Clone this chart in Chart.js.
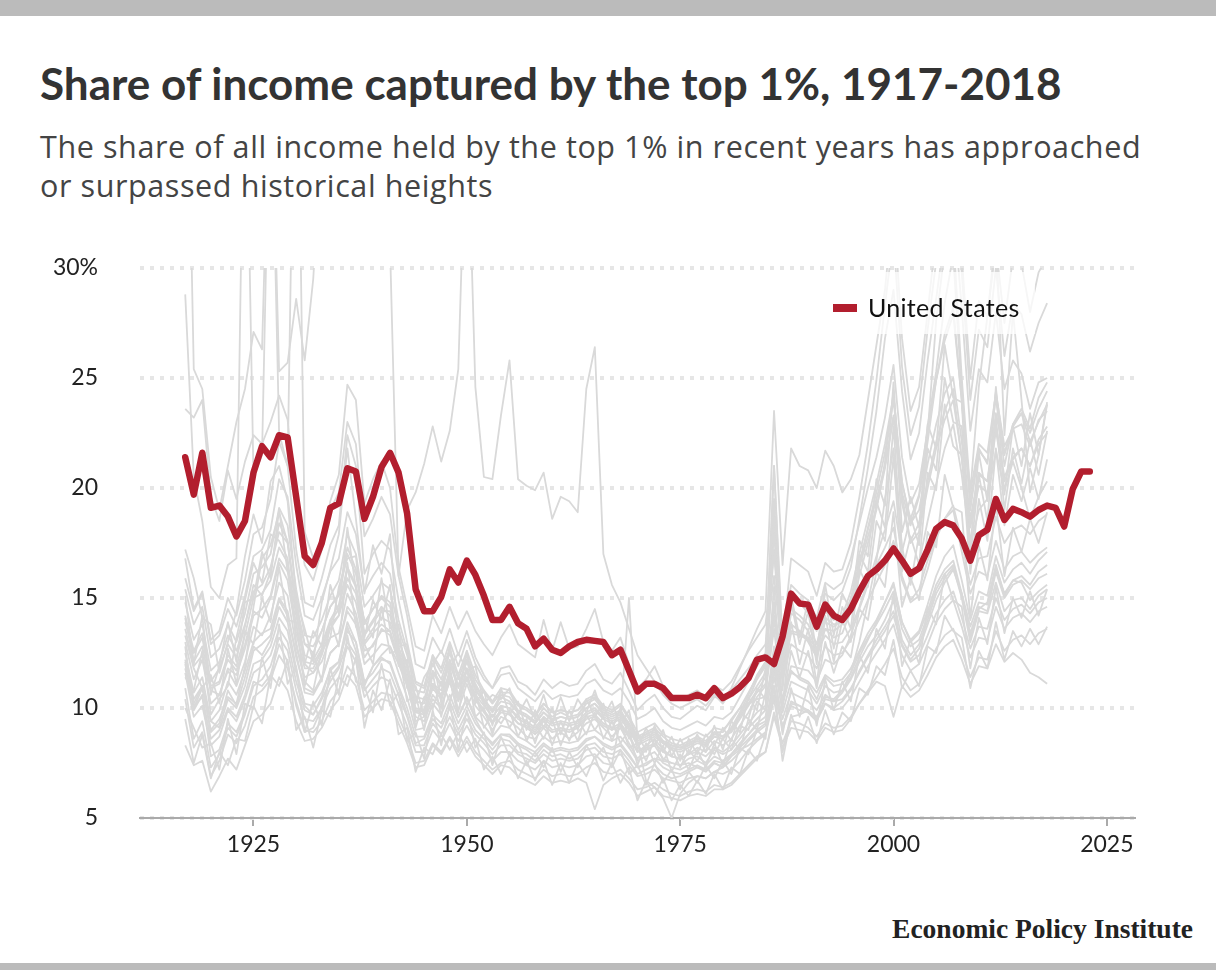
<!DOCTYPE html>
<html>
<head>
<meta charset="utf-8">
<script src="https://cdn.jsdelivr.net/npm/chart.js@4.4.1/dist/chart.umd.min.js"></script>
<style>
  html, body { margin: 0; padding: 0; background: #fff; }
  body { width: 1216px; height: 970px; position: relative; overflow: hidden; font-family: Lato, sans-serif; }
  .bar { position: absolute; left: 0; width: 1216px; background: #bbbbbb; }
  #title { position: absolute; left: 40px; top: 57px; font-size: 44px; font-weight: 700; color: #333; white-space: nowrap; }
  #subtitle { position: absolute; left: 40px; top: 127px; font-family: "Open Sans", sans-serif; font-size: 30.5px; letter-spacing: 0.6px; line-height: 39px; color: #444; white-space: nowrap; }
  #wrap { position: absolute; left: 0; top: 240px; width: 1216px; height: 640px; }
  #legend { position: absolute; left: 820px; top: 272px; width: 215px; height: 62px; background: rgba(255,255,255,0.75); }
  #legend .sw { position: absolute; left: 13px; top: 32px; width: 24px; height: 8px; background: #b21e2e; }
  #legend .lb { position: absolute; left: 48px; top: 21px; font-size: 25px; letter-spacing: 0.3px; line-height: 29px; color: #111; white-space: nowrap; }
  #source { position: absolute; right: 23px; top: 913px; font-family: "Liberation Serif", serif; font-weight: 700; font-size: 27.5px; color: #222; white-space: nowrap; }
</style>
</head>
<body>
<div class="bar" style="top:0;height:16px"></div>
<div id="title">Share of income captured by the top 1%, 1917-2018</div>
<div id="subtitle">The share of all income held by the top 1% in recent years has approached<br>or surpassed historical heights</div>
<div id="wrap"><canvas id="chart"></canvas></div>
<div id="legend"><div class="sw"></div><div class="lb">United States</div></div>
<div id="source">Economic Policy Institute</div>
<div class="bar" style="top:963px;height:7px"></div>

<script>
// x ticks and y ticks
var xTickYears = [1925, 1950, 1975, 2000, 2025];
var yTickValues = [5, 10, 15, 20, 25, 30];

// United States, 1917-2023
var usFirstYear = 1917;
var usShare = [
  21.4, 19.7, 21.6, 19.1, 19.2, 18.7, 17.8, 18.5, 20.7, 21.9,
  21.4, 22.4, 22.3, 19.6, 16.9, 16.5, 17.5, 19.1, 19.3, 20.9,
  20.75, 18.6, 19.6, 20.95, 21.6, 20.7, 18.85, 15.4, 14.4, 14.4,
  15.05, 16.3, 15.7, 16.7, 16.05, 15.1, 14.0, 14.0, 14.6, 13.85,
  13.6, 12.8, 13.15, 12.65, 12.5, 12.8, 13.0, 13.1, 13.05, 13.0,
  12.4, 12.65, 11.7, 10.75, 11.1, 11.1, 10.9, 10.45, 10.45, 10.45,
  10.6, 10.45, 10.9, 10.45, 10.65, 10.95, 11.35, 12.2, 12.3, 12.0,
  13.25, 15.2, 14.75, 14.7, 13.7, 14.7, 14.2, 14.0, 14.5, 15.3,
  16.0, 16.3, 16.7, 17.25, 16.7, 16.1, 16.35, 17.2, 18.15, 18.45,
  18.3, 17.7, 16.7, 17.85, 18.1, 19.5, 18.55, 19.05, 18.9, 18.7,
  19.0, 19.2, 19.1, 18.25, 19.95, 20.75, 20.75
];

// individual states, 1917-2018 (values above 30 run off the top)
var stateFirstYear = 1917;
var state01 = [
  16.8, 14.5, 15.3, 13.1, 13.5, 15.0, 14.2, 15.8, 17.9, 18.2,
  19.5, 22.1, 21.0, 17.2, 14.8, 14.6, 15.9, 17.4, 18.3, 22.4,
  21.0, 16.1, 17.0, 17.6, 17.2, 14.9, 13.0, 11.2, 11.0, 12.4,
  11.8, 13.0, 11.9, 13.1, 12.0, 11.3, 10.9, 11.8, 11.9, 11.2,
  11.0, 10.6, 11.3, 10.9, 11.2, 11.0, 11.1, 11.7, 12.0, 11.3,
  11.1, 11.6, 10.8, 9.9, 10.3, 10.6, 10.0, 9.6, 9.5, 9.8,
  10.1, 9.9, 10.5, 10.4, 10.9, 11.8, 12.7, 13.6, 14.4, 23.5,
  16.5, 21.8, 21.0, 20.8, 20.0, 21.7, 21.0, 19.8, 20.4, 21.5,
  24.0, 26.5, 29.0, 33.0, 26.8, 23.5, 24.6, 28.0, 31.5, 34.0,
  36.0, 30.5, 25.0, 28.5, 27.8, 31.0, 27.5, 30.5, 30.2, 28.0,
  29.8, 30.5
];
var state02 = [
  14.2, 12.6, 13.4, 11.2, 11.8, 12.9, 12.3, 13.7, 15.6, 15.1,
  16.2, 18.4, 17.6, 14.6, 12.9, 12.5, 13.5, 14.6, 15.2, 17.3,
  16.3, 13.8, 14.5, 15.0, 14.6, 13.2, 11.8, 10.3, 10.2, 11.6,
  11.0, 12.1, 11.0, 12.2, 11.1, 10.4, 9.9, 10.6, 10.5, 9.9,
  9.7, 9.4, 10.0, 9.6, 9.8, 9.6, 9.7, 10.2, 10.4, 9.9,
  9.7, 9.9, 9.3, 8.6, 8.8, 9.0, 8.5, 8.3, 8.2, 8.4,
  8.6, 8.4, 8.9, 8.7, 9.1, 9.8, 10.6, 11.5, 12.1, 21.0,
  12.5, 15.0, 14.8, 14.3, 13.5, 15.2, 14.9, 15.3, 16.4, 18.6,
  20.9, 23.5, 26.8, 29.0, 24.4, 21.3, 22.5, 25.8, 28.6, 31.5,
  32.8, 28.2, 22.6, 25.4, 24.8, 28.0, 24.5, 25.8, 25.2, 23.6,
  24.8, 25.0
];
var state03 = [
  12.1, 10.2, 11.0, 8.9, 9.3, 10.8, 10.1, 11.4, 12.8, 12.4,
  13.1, 14.6, 13.9, 11.8, 10.1, 9.7, 10.5, 11.8, 12.1, 13.9,
  13.0, 11.1, 11.9, 12.3, 12.0, 10.9, 9.7, 8.4, 8.6, 9.5,
  9.1, 10.0, 9.0, 9.8, 9.0, 8.6, 8.1, 8.6, 8.5, 8.0,
  7.9, 7.6, 8.1, 7.8, 7.9, 7.7, 7.9, 8.3, 8.4, 8.0,
  7.9, 8.1, 7.6, 7.0, 7.2, 7.4, 7.0, 6.8, 6.9, 7.1,
  7.3, 7.2, 7.6, 7.5, 7.9, 8.2, 8.6, 9.0, 9.3, 11.0,
  9.0, 10.2, 10.1, 9.8, 9.4, 10.5, 10.4, 10.8, 11.6, 13.0,
  14.8, 16.7, 19.5, 21.8, 17.3, 15.6, 17.9, 22.5, 27.6, 30.8,
  31.5, 25.0, 19.8, 24.6, 27.8, 31.5, 22.4, 28.0, 24.0, 19.8,
  21.5, 23.8
];
var state04 = [
  13.6, 11.9, 12.4, 10.8, 10.6, 11.8, 11.5, 12.7, 14.2, 14.5,
  15.1, 16.8, 16.2, 13.8, 12.1, 12.0, 12.7, 13.9, 14.5, 16.3,
  15.5, 13.3, 13.9, 14.4, 14.4, 12.8, 11.6, 10.0, 9.9, 11.1,
  10.5, 11.6, 10.4, 11.4, 10.5, 9.9, 9.4, 9.9, 9.8, 9.3,
  9.2, 8.9, 9.4, 9.0, 9.1, 9.0, 9.2, 9.6, 9.7, 9.3,
  9.1, 9.3, 8.8, 8.0, 8.3, 8.6, 8.1, 7.8, 7.7, 7.9,
  8.2, 8.0, 8.5, 8.3, 8.6, 9.2, 9.8, 10.5, 11.0, 14.8,
  11.4, 13.4, 13.3, 13.1, 12.4, 13.6, 13.5, 13.8, 14.8, 16.5,
  18.2, 19.8, 21.6, 24.0, 20.2, 18.6, 19.7, 22.8, 25.3, 28.4,
  30.6, 24.3, 19.0, 21.7, 21.2, 24.1, 21.0, 22.9, 23.4, 22.1,
  23.0, 23.8
];
var state05 = [
  15.4, 13.8, 14.6, 12.3, 12.7, 13.8, 13.0, 14.3, 16.1, 16.4,
  17.0, 19.1, 18.3, 15.4, 13.3, 13.2, 14.0, 15.1, 15.8, 17.9,
  17.0, 14.6, 15.1, 15.7, 15.4, 13.6, 12.4, 10.8, 10.7, 12.0,
  11.3, 12.5, 11.3, 12.4, 11.3, 10.7, 10.2, 10.7, 10.7, 10.1,
  9.9, 9.6, 10.2, 9.8, 9.9, 9.8, 9.9, 10.3, 10.5, 10.0,
  9.8, 10.1, 9.5, 8.7, 8.9, 9.1, 8.7, 8.4, 8.3, 8.5,
  8.7, 8.5, 8.9, 8.7, 8.9, 9.5, 10.1, 10.7, 11.1, 14.0,
  11.3, 12.9, 12.6, 12.4, 11.8, 12.8, 12.4, 12.5, 13.1, 14.0,
  14.9, 15.7, 16.5, 17.6, 15.8, 14.8, 15.1, 16.3, 17.7, 18.6,
  19.2, 17.6, 15.6, 16.8, 16.9, 18.7, 17.5, 18.1, 18.3, 17.9,
  18.5, 18.8
];
var state06 = [
  13.0, 11.3, 12.2, 10.2, 10.6, 11.7, 11.0, 12.1, 13.7, 13.3,
  14.2, 15.7, 15.1, 12.8, 11.4, 11.6, 12.1, 13.2, 13.4, 15.2,
  14.3, 12.6, 12.8, 13.6, 13.3, 12.1, 11.1, 9.4, 9.6, 10.6,
  10.1, 11.2, 9.9, 11.1, 10.1, 9.6, 9.0, 9.6, 9.4, 9.1,
  8.7, 8.6, 9.1, 8.6, 8.9, 8.6, 8.9, 9.3, 9.5, 9.1,
  8.7, 9.1, 8.4, 7.7, 8.1, 8.3, 7.7, 7.5, 7.4, 7.7,
  7.8, 7.5, 8.1, 7.9, 8.1, 8.6, 9.1, 9.5, 9.9, 12.8,
  10.1, 11.7, 11.3, 11.1, 10.4, 11.4, 11.0, 11.1, 11.6, 12.5,
  13.2, 13.8, 14.5, 15.3, 13.6, 12.8, 13.1, 14.2, 15.4, 16.1,
  16.5, 15.1, 13.4, 14.6, 14.4, 16.2, 15.0, 15.6, 15.8, 15.4,
  15.9, 16.1
];
var state07 = [
  10.4, 8.2, 8.9, 6.9, 7.6, 8.8, 8.4, 9.2, 10.5, 10.8,
  11.3, 12.4, 11.8, 10.3, 9.0, 8.9, 9.4, 10.3, 10.8, 11.9,
  11.4, 9.9, 10.3, 10.7, 10.6, 9.6, 8.7, 7.5, 7.6, 8.4,
  8.0, 8.7, 8.0, 8.7, 8.0, 7.6, 7.2, 7.5, 7.6, 7.2,
  7.0, 6.8, 7.2, 6.9, 7.0, 6.9, 7.0, 7.3, 7.5, 7.1,
  7.0, 7.2, 6.8, 6.3, 6.4, 6.6, 6.3, 6.1, 6.0, 6.2,
  6.3, 6.2, 6.5, 6.4, 6.6, 7.0, 7.4, 7.8, 8.0, 9.8,
  8.4, 9.4, 9.3, 9.1, 8.7, 9.3, 9.1, 9.2, 9.6, 10.2,
  10.7, 11.2, 11.0, 9.6, 11.0, 10.5, 10.8, 11.5, 12.3, 12.8,
  13.1, 12.2, 11.1, 11.9, 11.8, 12.9, 12.1, 12.5, 12.2, 11.6,
  11.4, 11.1
];
var state08 = [
  11.6, 9.6, 10.1, 8.3, 8.7, 9.9, 9.4, 10.4, 11.6, 11.9,
  12.4, 13.6, 13.0, 11.2, 9.9, 9.7, 10.4, 11.2, 11.8, 13.0,
  12.4, 10.8, 11.3, 11.8, 11.6, 10.6, 9.6, 8.3, 8.3, 9.3,
  8.8, 9.6, 8.8, 9.5, 8.8, 8.4, 7.9, 8.3, 8.3, 7.9,
  7.7, 7.5, 7.9, 7.6, 7.7, 7.6, 7.7, 8.1, 8.2, 7.8,
  7.7, 7.9, 7.4, 6.9, 7.0, 7.2, 6.8, 6.7, 6.6, 6.8,
  6.9, 6.8, 7.1, 7.0, 7.2, 7.6, 8.1, 8.5, 8.8, 10.9,
  9.1, 10.3, 10.1, 9.9, 9.5, 10.2, 9.9, 10.0, 10.5, 11.2,
  11.9, 12.5, 13.1, 13.8, 12.4, 11.7, 12.0, 12.9, 13.9, 14.5,
  14.9, 13.7, 12.3, 13.2, 13.1, 14.6, 13.6, 14.1, 14.3, 13.9,
  14.4, 14.6
];
var state09 = [
  14.8, 13.1, 13.8, 11.7, 12.1, 13.3, 12.6, 13.8, 15.3, 15.6,
  16.4, 18.0, 17.5, 14.8, 12.9, 12.8, 13.5, 14.6, 15.1, 17.0,
  16.1, 13.9, 14.5, 15.1, 14.8, 13.1, 12.0, 10.5, 10.4, 11.7,
  11.1, 12.2, 11.0, 12.1, 11.0, 10.4, 9.9, 10.5, 10.3, 9.8,
  9.6, 9.3, 9.8, 9.4, 9.6, 9.5, 9.6, 10.0, 10.2, 9.7,
  9.5, 9.7, 9.2, 8.5, 8.7, 8.9, 8.4, 8.2, 8.1, 8.3,
  8.5, 8.3, 8.7, 8.6, 9.0, 9.7, 10.4, 11.3, 11.9, 18.0,
  12.0, 14.3, 14.0, 13.5, 12.6, 14.1, 13.8, 13.9, 14.9, 16.4,
  17.8, 19.1, 20.9, 23.2, 19.3, 17.5, 18.0, 20.0, 21.8, 23.1,
  24.0, 21.4, 18.2, 20.1, 19.8, 22.6, 20.3, 21.3, 21.8, 21.0,
  22.2, 22.8
];
var state10 = [
  12.5, 10.7, 11.4, 9.4, 9.9, 11.2, 10.6, 11.7, 13.0, 13.4,
  13.6, 15.0, 14.4, 12.3, 10.9, 10.7, 11.4, 12.5, 12.9, 14.4,
  13.8, 12.0, 12.4, 12.9, 12.8, 11.6, 10.5, 9.0, 9.1, 10.2,
  9.7, 10.6, 9.6, 10.5, 9.6, 9.2, 8.7, 9.2, 9.1, 8.7,
  8.5, 8.2, 8.7, 8.4, 8.5, 8.4, 8.5, 8.9, 9.0, 8.7,
  8.5, 8.7, 8.2, 7.6, 7.8, 8.0, 7.5, 7.3, 7.2, 7.4,
  7.6, 7.4, 7.8, 7.6, 7.9, 8.3, 8.8, 9.3, 9.6, 12.0,
  9.8, 11.2, 11.0, 10.8, 10.2, 11.0, 10.7, 10.8, 11.4, 12.3,
  13.1, 13.9, 14.8, 15.7, 13.9, 13.1, 13.5, 14.7, 16.0, 16.9,
  17.4, 15.8, 14.0, 15.3, 15.1, 16.9, 15.7, 16.3, 16.6, 16.1,
  16.7, 17.1
];
var state11 = [
  11.8, 10.0, 10.9, 9.0, 9.5, 10.5, 10.2, 11.9, 14.6, 16.8,
  17.4, 18.9, 17.5, 14.4, 12.0, 11.6, 12.4, 13.6, 14.2, 15.6,
  14.8, 12.9, 13.4, 13.8, 13.5, 12.2, 11.2, 9.8, 9.9, 11.0,
  10.6, 11.5, 10.5, 11.4, 10.6, 10.1, 9.6, 10.1, 10.0, 9.6,
  9.4, 9.1, 9.6, 9.3, 9.4, 9.3, 9.4, 9.8, 10.0, 9.6,
  9.4, 9.6, 9.1, 8.4, 8.6, 8.8, 8.4, 8.1, 8.0, 8.2,
  8.4, 8.3, 8.7, 8.6, 9.0, 9.6, 10.2, 10.8, 11.4, 14.2,
  11.6, 13.5, 13.4, 13.2, 12.7, 13.9, 13.7, 14.0, 15.0, 16.6,
  18.1, 19.5, 21.0, 23.3, 19.8, 18.3, 19.6, 22.1, 24.9, 27.0,
  28.2, 23.9, 19.4, 21.8, 21.1, 24.4, 21.6, 22.8, 23.4, 22.5,
  23.6, 24.4
];
var state12 = [
  12.8, 9.9, 10.6, 7.8, 8.1, 9.3, 8.9, 9.8, 11.2, 11.0,
  11.5, 12.9, 12.1, 10.1, 8.9, 9.1, 10.0, 11.4, 11.9, 13.7,
  12.6, 11.0, 11.9, 12.4, 12.8, 12.0, 11.0, 9.6, 9.4, 10.4,
  10.0, 11.3, 9.6, 10.4, 9.5, 8.8, 8.3, 8.8, 8.7, 8.3,
  8.1, 7.8, 8.3, 8.0, 8.1, 8.0, 8.1, 8.5, 8.7, 8.3,
  8.1, 8.3, 7.8, 7.3, 7.4, 7.7, 7.6, 7.5, 7.4, 7.5,
  7.3, 7.1, 7.5, 7.3, 7.8, 8.1, 8.3, 8.6, 8.9, 10.6,
  9.2, 10.1, 9.9, 9.8, 9.4, 10.2, 10.0, 10.3, 10.8, 11.7,
  12.4, 13.1, 13.7, 14.4, 12.9, 12.2, 12.7, 13.8, 14.9, 15.7,
  16.3, 15.2, 13.2, 14.5, 14.8, 16.5, 15.1, 15.8, 15.7, 14.9,
  15.3, 15.6
];
var state13 = [
  13.9, 12.5, 13.2, 11.0, 11.2, 12.4, 11.9, 13.3, 15.0, 15.2,
  15.8, 17.3, 16.6, 14.2, 12.4, 12.2, 12.9, 14.0, 14.7, 16.4,
  15.6, 13.4, 14.0, 14.6, 14.2, 12.6, 11.4, 9.9, 9.8, 11.1,
  10.6, 11.6, 10.6, 11.7, 10.8, 10.3, 9.8, 10.3, 10.2, 9.8,
  9.6, 9.3, 9.8, 9.5, 9.6, 9.5, 9.6, 10.0, 10.2, 9.8,
  9.6, 9.8, 9.3, 8.6, 8.8, 9.0, 8.5, 8.3, 8.2, 8.4,
  8.6, 8.4, 8.8, 8.7, 9.1, 9.7, 10.4, 11.0, 11.6, 14.6,
  11.9, 13.8, 13.5, 13.0, 12.3, 13.6, 13.2, 13.4, 14.4, 16.0,
  17.5, 19.0, 21.2, 24.4, 19.6, 17.6, 18.4, 20.3, 22.1, 23.5,
  24.5, 21.3, 18.4, 20.6, 20.3, 23.4, 21.5, 22.9, 23.6, 22.7,
  24.1, 24.8
];
var state14 = [
  15.9, 14.4, 15.2, 12.9, 13.3, 14.5, 13.7, 15.1, 16.9, 17.2,
  18.1, 20.4, 19.6, 16.5, 14.2, 14.0, 15.0, 16.2, 16.8, 18.9,
  17.9, 15.3, 16.0, 16.6, 16.1, 14.0, 12.6, 11.1, 10.9, 12.3,
  11.6, 12.7, 11.5, 12.6, 11.5, 10.8, 10.3, 10.9, 10.8, 10.2,
  10.0, 9.7, 10.2, 9.8, 9.9, 9.8, 9.9, 10.4, 10.6, 10.1,
  9.9, 10.2, 9.6, 8.9, 9.1, 9.3, 8.8, 8.6, 8.5, 8.7,
  8.9, 8.7, 9.1, 9.0, 9.4, 10.0, 10.7, 11.4, 12.0, 19.5,
  12.3, 14.5, 14.2, 13.8, 12.9, 14.4, 14.0, 14.2, 15.3, 17.0,
  18.6, 20.2, 22.0, 24.2, 20.3, 18.4, 19.0, 21.1, 22.9, 24.3,
  25.0, 22.1, 18.6, 20.7, 20.3, 22.9, 20.5, 21.4, 21.8, 21.0,
  22.0, 22.5
];
var state15 = [
  8.3, 7.4, 7.6, 6.2, 6.9, 7.7, 7.2, 8.3, 9.4, 9.7,
  10.2, 11.4, 10.8, 9.4, 8.5, 8.6, 9.1, 9.9, 10.4, 11.5,
  11.0, 9.6, 10.0, 10.4, 10.3, 9.3, 8.4, 7.3, 7.4, 8.3,
  7.9, 8.6, 7.8, 8.5, 7.8, 7.4, 7.0, 7.4, 7.3, 6.9,
  6.7, 6.5, 6.9, 6.6, 6.7, 6.6, 6.8, 6.6, 5.4, 6.5,
  6.8, 7.0, 6.6, 6.0, 6.2, 6.4, 6.0, 5.9, 5.8, 6.0,
  6.1, 6.0, 6.3, 6.3, 6.5, 6.9, 7.3, 7.7, 8.0, 9.6,
  8.2, 9.1, 9.0, 8.9, 8.5, 9.1, 8.9, 9.0, 9.5, 10.2,
  10.8, 11.4, 12.0, 12.7, 11.4, 10.8, 11.1, 11.9, 12.7, 13.3,
  13.6, 12.6, 11.4, 12.3, 12.2, 13.5, 12.6, 13.1, 13.3, 12.9,
  13.4, 13.6
];
var state16 = [
  10.9, 8.6, 9.4, 7.3, 7.9, 9.1, 8.7, 9.7, 11.0, 11.3,
  11.9, 13.2, 12.6, 10.8, 9.5, 9.4, 10.0, 10.9, 11.4, 12.8,
  12.1, 10.5, 11.0, 11.4, 11.2, 10.2, 9.2, 8.0, 8.0, 9.0,
  8.5, 9.3, 8.5, 9.2, 8.5, 8.1, 7.6, 8.0, 8.0, 7.6,
  7.4, 7.2, 7.6, 7.3, 7.4, 7.3, 7.4, 7.8, 7.9, 7.5,
  7.4, 9.5, 15.0, 8.5, 6.7, 6.4, 5.9, 5.0, 6.1, 6.6,
  6.9, 6.8, 7.1, 7.3, 7.9, 8.4, 8.8, 9.2, 9.4, 11.0,
  7.6, 9.6, 9.7, 9.9, 9.6, 10.4, 10.3, 10.7, 11.3, 12.1,
  12.8, 13.3, 14.0, 14.9, 13.1, 12.4, 12.9, 14.0, 15.2, 15.9,
  16.4, 15.0, 13.0, 14.4, 14.3, 15.7, 14.4, 14.9, 15.0, 14.5,
  15.1, 15.4
];
var state17 = [
  23.6, 23.2, 24.0, 19.6, 18.5, 20.8, 19.5, 21.2, 22.4, 22.0,
  23.0, 24.2, 23.1, 19.0, 16.5, 15.8, 17.2, 19.4, 20.6, 24.7,
  24.0, 19.3, 20.4, 21.2, 20.0, 16.4, 14.6, 12.8, 12.6, 14.2,
  13.4, 14.6, 13.6, 14.4, 13.5, 12.9, 12.4, 13.2, 13.8, 12.9,
  12.6, 12.3, 14.0, 12.6, 13.9, 12.7, 12.8, 13.6, 14.5, 13.0,
  12.6, 13.2, 12.0, 10.9, 11.3, 11.9, 11.0, 10.6, 10.4, 10.6,
  10.8, 10.5, 11.0, 10.8, 11.2, 11.9, 12.6, 13.2, 13.8, 17.0,
  13.4, 15.6, 15.2, 14.9, 14.1, 15.7, 15.4, 15.7, 16.8, 18.4,
  20.0, 21.4, 23.2, 25.6, 21.4, 19.3, 20.2, 22.6, 24.9, 26.7,
  27.9, 24.0, 19.8, 22.0, 21.6, 24.3, 21.9, 22.7, 22.9, 21.9,
  23.1, 23.5
];
var state18 = [
  45.0, 25.4, 24.5, 20.5, 19.0, 21.0, 23.0, 24.5, 27.1, 26.3,
  40.0, 25.3, 25.7, 28.6, 25.8, 29.5, 36.0, 38.0, 40.0, 42.0,
  40.0, 36.0, 38.0, 40.0, 31.0, 16.0, 19.0, 19.8, 21.1, 22.8,
  21.2, 22.6, 25.4, 38.0, 24.6, 20.5, 20.4, 23.3, 25.8, 20.4,
  20.1, 19.9, 20.7, 18.6, 19.6, 19.4, 18.9, 24.5, 26.4, 17.0,
  15.6, 14.8, 13.6, 12.4, 11.8, 11.2, 10.6, 10.2, 10.0, 10.2,
  10.4, 10.1, 10.6, 10.2, 10.8, 11.3, 11.8, 12.4, 12.9, 16.0,
  12.2, 13.8, 13.5, 13.1, 12.5, 13.3, 12.9, 13.0, 13.6, 14.6,
  15.8, 16.5, 17.3, 18.2, 16.0, 14.9, 15.4, 16.7, 17.8, 18.6,
  19.0, 17.1, 15.2, 16.2, 16.0, 17.6, 16.3, 16.9, 17.1, 16.6,
  17.0, 17.3
];
var state19 = [
  28.8, 20.5, 18.5, 15.5, 15.0, 16.5, 16.8, 42.0, 20.5, 21.5,
  40.0, 22.5, 21.0, 45.0, 18.0, 16.8, 17.5, 19.0, 19.8, 23.0,
  22.0, 17.8, 18.6, 19.6, 18.8, 16.0, 14.2, 12.0, 11.8, 13.2,
  12.5, 13.6, 12.4, 13.5, 12.3, 11.5, 10.9, 11.5, 11.6, 10.9,
  10.6, 10.3, 10.8, 10.4, 10.6, 10.5, 10.6, 11.1, 11.3, 10.8,
  10.6, 10.9, 10.3, 9.5, 9.7, 10.0, 9.4, 9.1, 9.0, 9.2,
  9.4, 9.2, 9.6, 9.5, 9.8, 10.5, 11.2, 11.9, 12.5, 21.0,
  13.0, 16.8, 16.5, 16.2, 15.1, 16.6, 16.2, 16.3, 17.5, 19.6,
  22.0, 24.9, 28.3, 31.5, 25.5, 22.4, 23.7, 27.2, 30.3, 33.2,
  34.5, 29.8, 24.0, 27.2, 26.4, 30.0, 26.0, 28.4, 27.9, 26.2,
  27.5, 28.4
];
var state20 = [
  14.1, 12.1, 12.8, 10.9, 11.1, 12.2, 11.7, 12.9, 14.4, 14.1,
  15.0, 16.6, 15.8, 13.4, 11.8, 11.8, 12.6, 13.8, 14.2, 15.9,
  15.2, 13.0, 13.6, 14.1, 13.9, 12.4, 11.3, 9.8, 9.7, 10.9,
  10.4, 11.4, 10.3, 11.3, 10.4, 9.8, 9.3, 9.8, 9.7, 9.3,
  9.1, 8.8, 9.2, 8.9, 9.0, 8.9, 9.1, 9.5, 9.6, 9.2,
  9.0, 9.2, 8.7, 8.0, 8.2, 8.4, 8.0, 7.8, 7.7, 7.9,
  8.0, 7.8, 8.2, 8.0, 8.3, 8.8, 9.3, 9.8, 10.1, 12.2,
  10.3, 11.6, 11.4, 11.2, 10.7, 11.5, 11.2, 11.3, 11.8, 12.6,
  13.4, 14.0, 14.8, 15.6, 13.9, 13.0, 13.4, 14.4, 15.6, 16.3,
  16.7, 15.2, 13.7, 14.8, 14.7, 16.4, 15.2, 15.8, 16.0, 15.6,
  16.2, 16.5
];
var state21 = [
  12.2, 10.4, 11.0, 9.4, 9.1, 10.4, 10.0, 11.0, 12.6, 12.9,
  13.3, 14.9, 14.2, 12.5, 10.7, 10.6, 11.3, 12.5, 12.9, 14.6,
  14.1, 12.3, 12.9, 13.5, 13.5, 12.3, 11.2, 9.9, 9.9, 11.1,
  10.8, 12.0, 10.9, 11.8, 10.9, 10.2, 9.6, 10.1, 10.0, 9.5,
  9.3, 9.0, 9.5, 9.2, 9.3, 9.2, 9.3, 9.7, 9.9, 9.5,
  9.3, 9.5, 9.0, 8.3, 8.5, 8.7, 8.4, 8.3, 8.2, 8.3,
  8.5, 8.4, 8.9, 8.9, 9.5, 10.0, 10.2, 10.4, 10.5, 12.0,
  10.4, 11.9, 11.8, 11.7, 11.2, 12.2, 12.0, 12.4, 13.3, 14.5,
  15.6, 16.9, 18.1, 19.4, 17.0, 15.8, 16.6, 18.5, 20.2, 21.8,
  22.9, 20.6, 17.4, 19.0, 19.5, 21.7, 19.9, 21.2, 20.0, 18.6,
  19.6, 20.3
];
var state22 = [
  12.0, 10.1, 10.5, 8.6, 9.0, 10.0, 9.6, 10.6, 12.0, 12.2,
  12.8, 14.1, 13.5, 11.6, 10.2, 10.1, 10.7, 11.7, 12.1, 13.5,
  13.0, 11.2, 11.6, 12.2, 12.1, 11.0, 10.0, 8.7, 8.7, 9.7,
  9.3, 10.3, 9.3, 10.1, 9.3, 8.8, 8.4, 8.8, 8.8, 8.4,
  8.2, 8.0, 8.4, 8.1, 8.2, 8.1, 8.2, 8.6, 8.7, 8.4,
  8.2, 8.4, 7.9, 7.3, 7.5, 7.7, 7.3, 7.1, 7.0, 7.2,
  7.4, 7.2, 7.5, 7.3, 7.6, 8.0, 8.5, 8.9, 9.2, 11.4,
  9.5, 10.7, 10.5, 10.3, 9.9, 10.6, 10.3, 10.4, 10.9, 11.6,
  12.3, 12.9, 13.5, 14.2, 12.8, 12.1, 12.4, 13.3, 14.3, 14.9,
  15.3, 14.1, 12.7, 13.7, 13.6, 15.0, 14.0, 14.5, 14.7, 14.3,
  14.8, 15.0
];
var state23 = [
  15.1, 12.0, 14.2, 10.6, 11.9, 13.9, 12.1, 14.8, 15.0, 17.1,
  15.9, 19.0, 16.2, 15.1, 12.0, 13.5, 12.8, 15.6, 14.3, 18.2,
  15.4, 14.0, 13.2, 15.9, 13.6, 13.8, 10.9, 11.0, 9.6, 12.4,
  10.2, 12.9, 10.4, 12.6, 10.2, 10.8, 9.2, 10.9, 9.7, 10.3,
  9.0, 9.9, 9.1, 10.0, 8.8, 9.9, 9.0, 10.4, 9.6, 10.2,
  9.0, 10.0, 8.6, 8.9, 8.0, 9.2, 8.0, 8.7, 7.6, 8.6,
  7.9, 8.8, 8.3, 9.1, 8.5, 9.8, 9.5, 10.9, 10.4, 15.5,
  10.0, 13.9, 12.0, 13.6, 11.1, 14.2, 12.1, 14.0, 13.0, 16.3,
  15.5, 18.5, 17.6, 21.4, 16.2, 17.8, 16.5, 20.7, 19.9, 23.8,
  21.9, 21.5, 16.1, 19.5, 17.6, 21.8, 18.3, 20.6, 19.4, 20.9,
  19.5, 21.3
];
var state24 = [
  10.0, 9.1, 8.2, 8.4, 7.2, 9.5, 7.9, 10.2, 10.0, 12.3,
  10.9, 13.8, 11.1, 11.9, 8.9, 10.3, 9.2, 11.8, 10.6, 13.3,
  11.2, 11.0, 9.8, 12.0, 10.1, 10.7, 8.5, 8.9, 7.7, 9.9,
  8.3, 10.2, 8.1, 9.9, 8.2, 8.9, 7.4, 8.7, 7.8, 8.4,
  7.4, 8.0, 7.3, 8.2, 7.1, 8.0, 7.3, 8.3, 7.7, 8.2,
  7.3, 8.1, 7.0, 7.4, 6.5, 7.5, 6.6, 7.2, 6.3, 7.1,
  6.6, 7.4, 6.8, 7.6, 7.0, 8.2, 7.9, 9.0, 8.6, 11.8,
  8.8, 10.9, 9.6, 11.0, 9.2, 11.3, 9.9, 11.2, 10.3, 12.4,
  11.6, 13.6, 12.7, 15.2, 11.9, 13.1, 12.0, 14.6, 13.8, 16.1,
  14.9, 14.6, 11.8, 14.1, 12.9, 15.5, 13.4, 15.0, 14.1, 15.3,
  14.2, 15.4
];
var state25 = [
  17.2, 15.9, 14.1, 13.8, 11.6, 13.0, 14.4, 16.9, 18.8, 17.5,
  20.3, 21.0, 19.4, 15.0, 13.6, 12.1, 14.8, 16.3, 17.9, 21.8,
  18.6, 15.2, 17.4, 16.1, 17.9, 12.8, 12.9, 10.2, 11.4, 12.0,
  12.6, 11.8, 12.5, 11.7, 11.9, 10.2, 10.6, 10.4, 10.9, 9.7,
  10.4, 9.5, 10.6, 9.3, 10.5, 9.4, 10.4, 9.8, 10.8, 9.6,
  10.3, 9.2, 9.9, 8.1, 9.1, 8.3, 9.0, 7.8, 8.6, 7.9,
  8.8, 8.0, 9.2, 8.1, 9.4, 8.9, 10.5, 9.9, 11.8, 17.2,
  11.4, 15.1, 13.2, 14.9, 12.5, 15.6, 13.3, 15.2, 14.4, 17.6,
  16.9, 20.4, 19.2, 24.8, 18.0, 19.6, 18.2, 22.9, 21.8, 26.5,
  24.1, 23.9, 17.3, 21.6, 19.4, 24.6, 19.7, 22.8, 21.0, 23.4,
  21.5, 23.9
];
var state26 = [
  9.5, 7.5, 8.8, 6.8, 8.0, 7.4, 8.6, 8.5, 10.1, 9.3,
  11.5, 11.0, 12.2, 9.0, 9.6, 8.2, 9.9, 9.6, 11.4, 11.0,
  12.3, 9.1, 10.8, 9.9, 11.3, 8.8, 9.1, 7.1, 8.2, 7.9,
  8.8, 8.1, 8.9, 8.0, 8.6, 7.2, 7.8, 7.0, 7.9, 6.8,
  7.6, 6.7, 7.6, 6.5, 7.5, 6.6, 7.5, 6.9, 7.8, 6.7,
  7.5, 6.6, 7.3, 5.8, 6.7, 6.0, 6.8, 5.8, 6.5, 6.0,
  6.7, 6.1, 7.0, 6.3, 7.3, 7.0, 8.1, 7.6, 8.8, 10.4,
  8.0, 9.7, 8.6, 9.6, 8.4, 9.9, 8.8, 9.8, 9.4, 10.9,
  10.6, 11.9, 11.5, 13.1, 10.9, 11.7, 11.0, 12.8, 12.5, 14.2,
  13.5, 13.2, 10.9, 12.6, 11.8, 13.9, 12.2, 13.5, 12.8, 13.6,
  12.9, 13.7
];
var state27 = [
  13.3, 11.8, 10.9, 11.5, 10.2, 12.7, 11.1, 13.5, 12.9, 15.0,
  13.9, 16.4, 14.0, 13.9, 11.0, 12.5, 11.2, 14.0, 12.8, 16.6,
  13.7, 12.9, 12.0, 14.6, 12.5, 12.6, 10.3, 10.6, 9.0, 11.6,
  9.6, 11.9, 9.8, 11.8, 9.6, 10.0, 8.8, 10.1, 9.1, 9.8,
  8.5, 9.3, 8.6, 9.5, 8.3, 9.3, 8.5, 9.7, 9.0, 9.6,
  8.5, 9.4, 8.2, 8.4, 7.6, 8.6, 7.6, 8.2, 7.3, 8.1,
  7.6, 8.3, 7.9, 8.6, 8.1, 9.2, 9.0, 10.3, 9.9, 19.0,
  10.8, 14.8, 12.9, 14.4, 12.0, 14.9, 12.7, 14.6, 13.6, 17.0,
  16.2, 19.4, 18.2, 22.8, 17.1, 18.7, 17.4, 21.8, 20.8, 25.0,
  23.0, 22.8, 16.8, 20.6, 18.5, 23.2, 19.0, 21.8, 20.2, 22.2,
  20.6, 22.6
];
var state28 = [
  11.4, 10.8, 12.6, 9.7, 10.4, 11.0, 13.2, 14.9, 16.6, 15.7,
  17.9, 17.6, 16.8, 13.0, 11.2, 10.8, 12.6, 13.2, 15.5, 16.8,
  16.9, 13.2, 14.9, 14.0, 15.6, 11.9, 12.2, 9.1, 10.5, 10.0,
  11.2, 10.3, 11.5, 10.1, 10.8, 9.1, 9.7, 9.3, 9.9, 8.7,
  9.5, 8.4, 9.6, 8.3, 9.4, 8.5, 9.5, 8.8, 9.8, 8.6,
  9.4, 8.4, 9.0, 7.4, 8.4, 7.5, 8.3, 7.1, 7.9, 7.2,
  8.1, 7.3, 8.4, 7.4, 8.6, 8.1, 9.5, 9.0, 10.7, 13.6,
  10.2, 12.6, 11.4, 12.6, 10.9, 13.0, 11.6, 12.8, 12.3, 14.5,
  14.0, 16.2, 15.5, 18.9, 14.6, 15.9, 14.9, 18.0, 17.3, 20.6,
  19.1, 18.9, 14.1, 17.4, 15.8, 19.3, 16.0, 18.2, 17.1, 18.6,
  17.5, 18.9
];

var stateSeries = [state01, state02, state03, state04, state05, state06, state07,
  state08, state09, state10, state11, state12, state13, state14, state15, state16,
  state17, state18, state19, state20, state21, state22, state23, state24, state25,
  state26, state27, state28];

function toPoints(first, values) {
  return values.map(function(v, i) { return { x: first + i, y: v }; });
}

var datasets = [{
  label: 'United States',
  data: toPoints(usFirstYear, usShare),
  borderColor: '#b21e2e',
  borderWidth: 6.5,
  borderJoinStyle: 'round',
  borderCapStyle: 'round',
  pointRadius: 0,
  tension: 0,
  order: 0
}];
stateSeries.forEach(function(s, i) {
  datasets.push({
    label: 'state ' + (i + 1),
    data: toPoints(stateFirstYear, s),
    borderColor: '#d9d9d9',
    borderWidth: 1.8,
    borderJoinStyle: 'round',
    pointRadius: 0,
    tension: 0,
    order: 1
  });
});

var tickFont = { family: 'Lato', size: 23 };

var ctx = document.getElementById('chart').getContext('2d');
var chart = new Chart(ctx, {
  type: 'line',
  data: { datasets: datasets },
  options: {
    responsive: true,
    maintainAspectRatio: false,
    animation: false,
    layout: { padding: { top: 28, right: 81, bottom: 0, left: 0 } },
    plugins: { legend: { display: false }, tooltip: { enabled: false } },
    scales: {
      x: {
        type: 'linear',
        min: 1911.7,
        max: 2028.3,
        afterFit: function(scale) { scale.height = 62; },
        afterBuildTicks: function(scale) {
          scale.ticks = xTickYears.map(function(v) { return { value: v }; });
        },
        ticks: {
          color: '#222',
          font: tickFont,
          padding: 5,
          maxRotation: 0,
          callback: function(v) { return String(v); }
        },
        grid: { drawOnChartArea: false, drawTicks: true, tickLength: 8, color: '#aaaaaa', lineWidth: 2 },
        border: { display: true, color: '#aaaaaa', width: 2 }
      },
      y: {
        min: 5,
        max: 30,
        afterFit: function(scale) { scale.width = 140; },
        afterBuildTicks: function(scale) {
          scale.ticks = yTickValues.map(function(v) { return { value: v }; });
        },
        ticks: {
          color: '#222',
          font: tickFont,
          padding: 0,
          callback: function(v) { return v === 30 ? '30%' : String(v); }
        },
        grid: {
          drawTicks: true, tickLength: 42, tickColor: 'rgba(0,0,0,0)',
          color: '#e6e6e6', lineWidth: 4, borderDash: [4, 6]
        },
        border: { display: false, dash: [4, 6] }
      }
    }
  }
});
</script>
</body>
</html>
